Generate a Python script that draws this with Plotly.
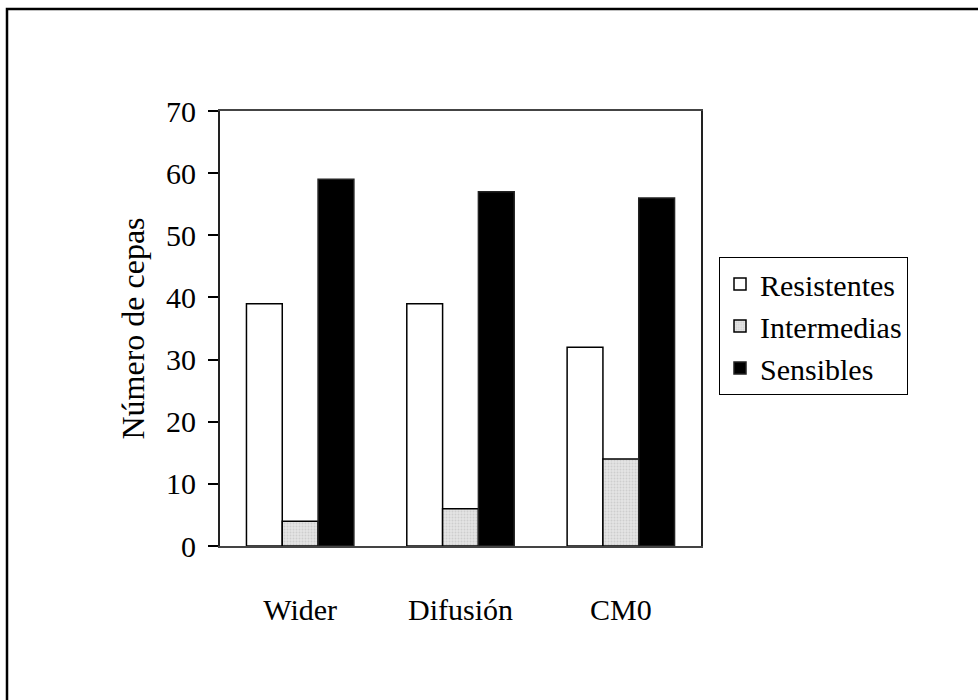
import plotly.graph_objects as go

categories = ["Wider", "Difusión", "CM0"]
resistentes = [39, 39, 32]
intermedias = [4, 6, 14]
sensibles = [59, 57, 56]
y_ticks = [0, 10, 20, 30, 40, 50, 60, 70]

FONT = "Liberation Serif"

fig = go.Figure()
fig.add_trace(go.Bar(name="Resistentes", x=categories, y=resistentes,
                     marker=dict(color="white", line=dict(color="black", width=1.5))))
fig.add_trace(go.Bar(name="Intermedias", x=categories, y=intermedias,
                     marker=dict(color="#e4e4e4", line=dict(color="black", width=1.5),
                                 pattern=dict(shape=".", fgcolor="#b8b8b8", bgcolor="#e4e4e4",
                                              size=3, solidity=0.35))))
fig.add_trace(go.Bar(name="Sensibles", x=categories, y=sensibles,
                     marker=dict(color="black", line=dict(color="#222", width=1.5))))

L, T, R, B = 220, 111, 701, 546
W, H = 978, 700
pw, ph = R - L, B - T

fig.update_layout(
    width=W, height=H,
    margin=dict(l=L, r=W - R, t=T, b=H - B, pad=0),
    paper_bgcolor="white", plot_bgcolor="white",
    barmode="group", bargap=0.33, bargroupgap=0,
    font=dict(family=FONT, size=30, color="black"),
    showlegend=True,
    legend=dict(x=(719 - L) / pw, y=1 - (257 - T) / ph, xanchor="left", yanchor="top",
                bordercolor="black", borderwidth=1, bgcolor="white",
                font=dict(family=FONT, size=30, color="black"),
                itemwidth=30, tracegroupgap=0, traceorder="normal"),
    xaxis=dict(showline=True, linecolor="#444", linewidth=2, mirror=True,
               ticks="", showgrid=False, ticklabelstandoff=36,
               tickfont=dict(family=FONT, size=30, color="black")),
    yaxis=dict(range=[0, 70], tickvals=y_ticks, showline=True, linecolor="#222",
               linewidth=2, mirror=True, ticks="outside", ticklen=10, tickwidth=1.5,
               tickcolor="black", showgrid=False, zeroline=False, ticklabelstandoff=6,
               tickfont=dict(family=FONT, size=30, color="black"),
               title=dict(text="Número de cepas", standoff=12,
                          font=dict(family=FONT, size=32, color="black"))),
    shapes=[dict(type="rect", xref="paper", yref="paper",
                 x0=(7 - L) / pw, x1=(990 - L) / pw,
                 y0=-(720 - B) / ph, y1=1 + (T - 9) / ph,
                 line=dict(color="black", width=2.5), layer="below")],
)

fig.write_html("out.html")
